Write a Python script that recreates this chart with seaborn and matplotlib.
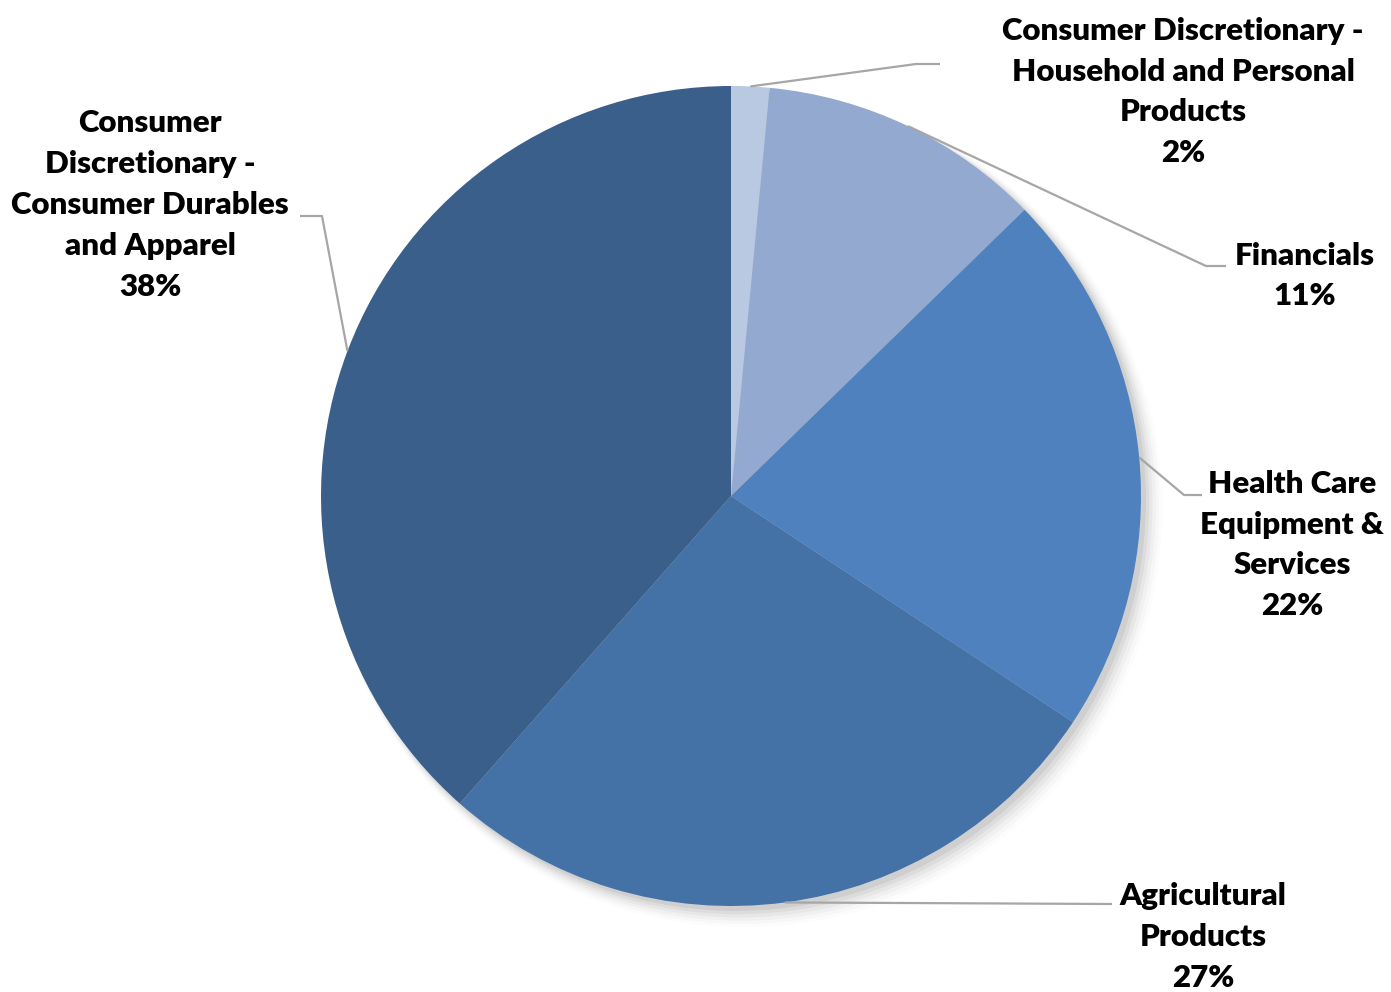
import numpy as np
import matplotlib
matplotlib.use("Agg")
import matplotlib.pyplot as plt
import seaborn as sns

# Data (clockwise from 12 o'clock)
categories = [
    "Consumer Discretionary -\nHousehold and Personal\nProducts",
    "Financials",
    "Health Care\nEquipment &\nServices",
    "Agricultural\nProducts",
    "Consumer\nDiscretionary -\nConsumer Durables\nand Apparel",
]
values = [1.5, 11.2, 21.6, 27.2, 38.5]
pct_labels = ["2%", "11%", "22%", "27%", "38%"]
colors = ["#B9C9E2", "#93A9D0", "#4E81BD", "#4471A6", "#3A5F8B"]

sns.set_theme(style="white")
plt.rcParams["font.family"] = ["Lato", "DejaVu Sans"]

W, H = 1391, 992
fig = plt.figure(figsize=(W / 100, H / 100), dpi=100)
ax = fig.add_axes([0, 0, 1, 1])

cx, cy, R = 731, 496, 410
def px(x, y):
    return ((x - cx) / R, (cy - y) / R)

# soft shadow
for i, a in enumerate(np.linspace(0.05, 0.01, 6)):
    sh = plt.Circle((0.012 + i * 0.004, -0.012 - i * 0.004), 1.0 + i * 0.004,
                    color="black", alpha=a, lw=0, zorder=0)
    ax.add_patch(sh)

wedges, _ = ax.pie(values, colors=colors, startangle=90, counterclock=False,
                   radius=1.0, center=(0, 0),
                   wedgeprops=dict(linewidth=0, edgecolor="none"))
for w in wedges:
    w.set_zorder(2)
ax.set_xlim(-cx / R, (W - cx) / R)
ax.set_ylim(-(H - cy) / R, cy / R)
ax.set_aspect("equal")
ax.axis("off")

# layout: elbow point, line end, text center (pixels)
layout = [
    dict(elbow=(916, 64), end=(940, 64), text=(1183, 92)),
    dict(elbow=(1206, 266), end=(1226, 266), text=(1305, 276)),
    dict(elbow=(1184, 495), end=(1202, 495), text=(1292, 545)),
    dict(elbow=(1112, 904), end=(1112, 904), text=(1203, 937)),
    dict(elbow=(322, 216), end=(300, 216), text=(150, 205)),
]

for w, cat, pct, lay in zip(wedges, categories, pct_labels, layout):
    mid = np.deg2rad((w.theta1 + w.theta2) / 2)
    ax_, ay_ = np.cos(mid), np.sin(mid)
    ex, ey = px(*lay["elbow"])
    nx, ny = px(*lay["end"])
    ax.plot([ax_, ex, nx], [ay_, ey, ny], color="#A6A6A6", lw=1.6,
            zorder=3, solid_capstyle="butt")
    tx, ty = px(*lay["text"])
    ax.text(tx, ty, cat + "\n" + pct, ha="center", va="center",
            fontsize=22.5, fontweight="heavy", color="black",
            linespacing=1.56, zorder=4)

fig.savefig("out.png", dpi=100)
